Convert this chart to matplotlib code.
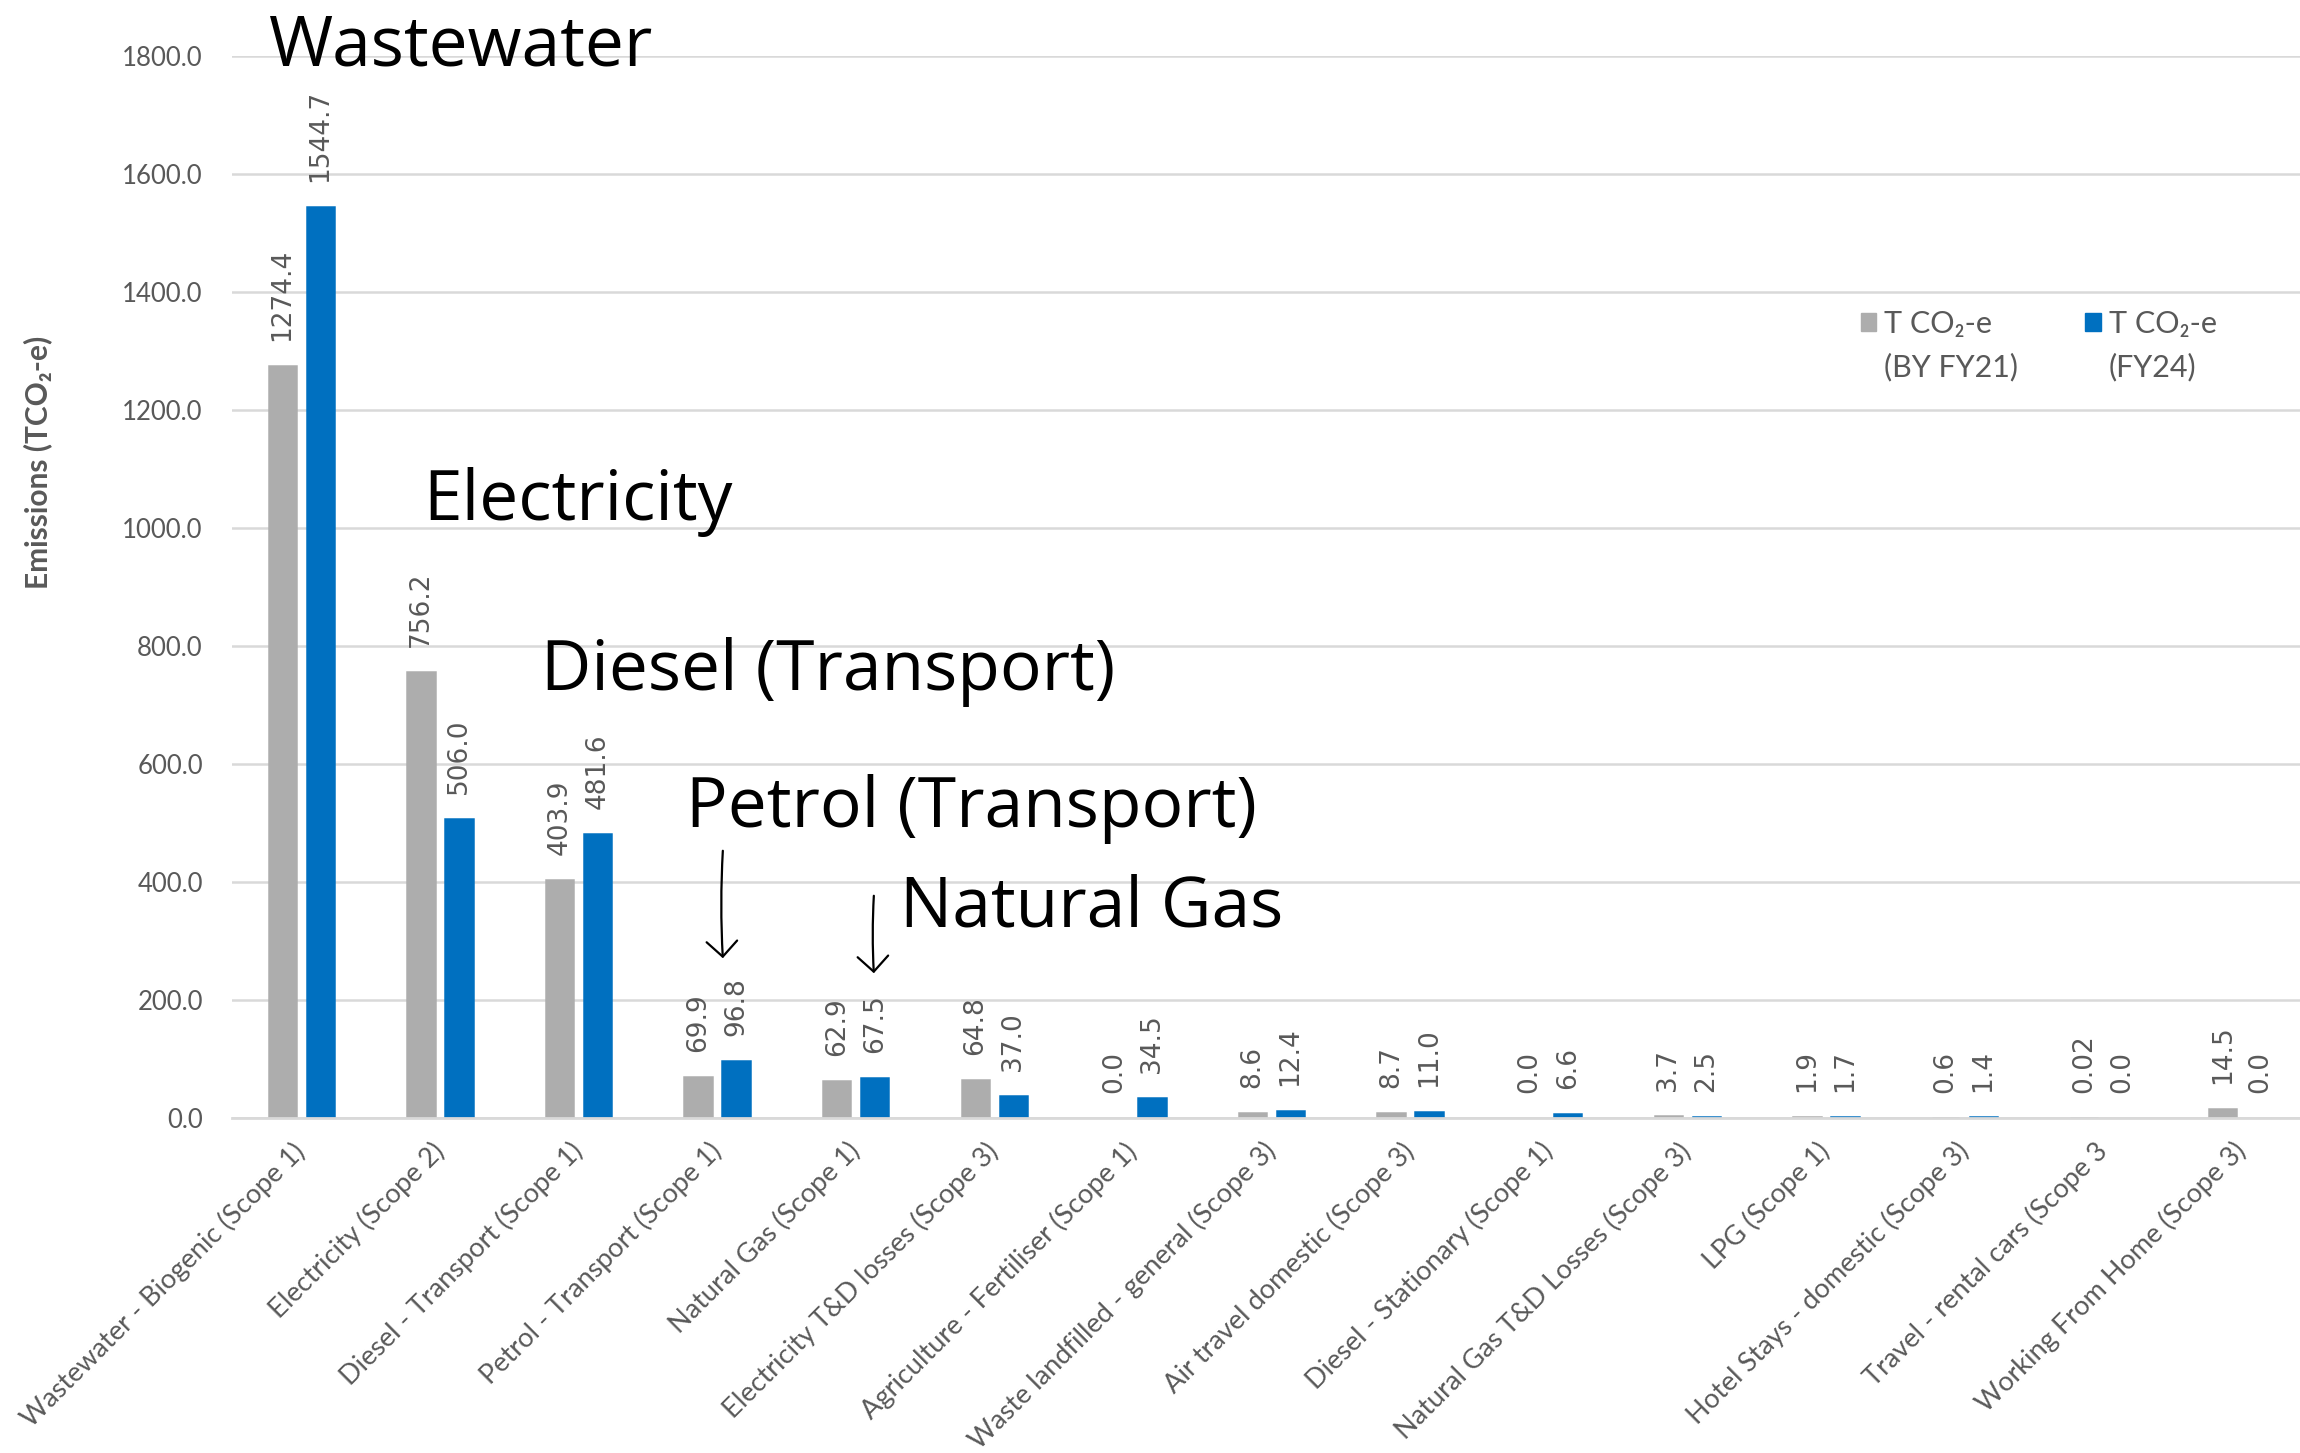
import matplotlib
matplotlib.use("Agg")
import matplotlib.pyplot as plt
import numpy as np
from matplotlib.patches import Patch

# emissions by source, t CO2-e
categories = [
    "Wastewater - Biogenic (Scope 1)",
    "Electricity (Scope 2)",
    "Diesel - Transport (Scope 1)",
    "Petrol - Transport (Scope 1)",
    "Natural Gas (Scope 1)",
    "Electricity T&D losses (Scope 3)",
    "Agriculture - Fertiliser (Scope 1)",
    "Waste landfilled - general (Scope 3)",
    "Air travel domestic (Scope 3)",
    "Diesel - Stationary (Scope 1)",
    "Natural Gas T&D Losses (Scope 3)",
    "LPG (Scope 1)",
    "Hotel Stays - domestic (Scope 3)",
    "Travel - rental cars (Scope 3",
    "Working From Home (Scope 3)",
]
by_fy21 = [1274.4, 756.2, 403.9, 69.9, 62.9, 64.8, 0.0, 8.6, 8.7, 0.0, 3.7, 1.9, 0.6, 0.02, 14.5]
fy24 = [1544.7, 506.0, 481.6, 96.8, 67.5, 37.0, 34.5, 12.4, 11.0, 6.6, 2.5, 1.7, 1.4, 0.0, 0.0]
series_names = ["T CO\u2082-e", "T CO\u2082-e"]
series_notes = ["(BY FY21)", "(FY24)"]

# callouts added on top of the chart
callouts = ["Wastewater", "Electricity", "Diesel (Transport)", "Petrol (Transport)", "Natural Gas"]

GRAY = "#ADADAD"
BLUE = "#0070C0"
TXT = "#595959"
XL = ["Lato", "DejaVu Sans"]

W, H = 2300, 1453
fig = plt.figure(figsize=(W / 100, H / 100), dpi=100)
ax = fig.add_axes([232 / W, 335 / H, 2079 / W, 1062 / H])

x = np.arange(len(categories))
g = np.array(by_fy21)
b = np.array(fy24)
ax.bar(x - 0.137, g, 0.198, color=GRAY, edgecolor=GRAY,
       linewidth=np.where(g > 0, 1.8, 0), zorder=2)
ax.bar(x + 0.137, b, 0.198, color=BLUE, edgecolor=BLUE,
       linewidth=np.where(b > 0, 1.8, 0), zorder=2)


def fmt(v):
    return f"{v:.2f}" if 0 < v < 0.05 else f"{v:.1f}"


for xi, v in zip(x - 0.137, g):
    ax.annotate(fmt(v), (xi, v), xytext=(0, 18), textcoords="offset points",
                rotation=90, ha="center", va="bottom", fontsize=19,
                color=TXT, family="DejaVu Sans")
for xi, v in zip(x + 0.137, b):
    ax.annotate(fmt(v), (xi, v), xytext=(0, 18), textcoords="offset points",
                rotation=90, ha="center", va="bottom", fontsize=19,
                color=TXT, family="DejaVu Sans")

ax.set_xlim(-0.5, 14.5)
ax.set_ylim(0, 1800)
ax.set_yticks(np.arange(0, 1801, 200))
ax.set_yticklabels([f"{t:.1f}" for t in np.arange(0, 1801, 200)],
                   fontsize=18.5, color=TXT, family=XL)
ax.set_xticks(x)
ax.set_xticklabels(categories, rotation=45, ha="right", va="center",
                   rotation_mode="anchor", fontsize=19.5, color=TXT, family=XL)
ax.tick_params(axis="both", length=0)
ax.tick_params(axis="y", pad=21)
ax.tick_params(axis="x", pad=21)
ax.grid(axis="y", color="#D9D9D9", linewidth=1.8)
ax.set_axisbelow(True)
for s in ["left", "right", "top"]:
    ax.spines[s].set_visible(False)
ax.spines["bottom"].set_color("#D9D9D9")
ax.spines["bottom"].set_linewidth(2)

fig.text(38 / W, 1 - 462 / H, "Emissions (TCO\u2082-e)", rotation=90,
         ha="center", va="center", fontsize=21.5, fontweight="bold",
         color=TXT, family=XL)

# legend: squares next to the first line, note on a second line
leg = ax.legend(handles=[Patch(color=GRAY), Patch(color=BLUE)], labels=series_names,
                ncol=2, frameon=False, loc="center left",
                bbox_to_anchor=(1861 / W, 1 - 324 / H), bbox_transform=fig.transFigure,
                borderpad=0, borderaxespad=0, handlelength=0.5, handleheight=0.5,
                handletextpad=0.26, columnspacing=3.05,
                prop={"family": XL, "size": 22})
for t in leg.get_texts():
    t.set_color(TXT)
fig.canvas.draw()
inv = fig.transFigure.inverted()
for t, note in zip(leg.get_texts(), series_notes):
    x0 = inv.transform(t.get_window_extent())[0][0]
    fig.text(x0, 1 - 367 / H, note, ha="left", va="center", fontsize=22,
             color=TXT, family=XL)

# big callout labels and arrows
callout_pos = [(269, 66), (423, 520), (541, 690), (686, 827), (900, 926)]
for label, (px, py) in zip(callouts, callout_pos):
    fig.text(px / W, 1 - py / H, label, ha="left", va="baseline",
             fontsize=50, color="black", family="Open Sans")

arrows = [((723, 848), (723, 961)), ((874, 893), (874, 976))]
for (x0, y0), (x1, y1) in arrows:
    fig.add_artist(matplotlib.patches.FancyArrowPatch(
        (x0 / W, 1 - y0 / H), (x1 / W, 1 - y1 / H), transform=fig.transFigure,
        arrowstyle="->,head_length=0.55,head_width=0.55", mutation_scale=20,
        linewidth=1.6, color="black", connectionstyle="arc3,rad=0.03"))

fig.savefig("out.png", dpi=100)
